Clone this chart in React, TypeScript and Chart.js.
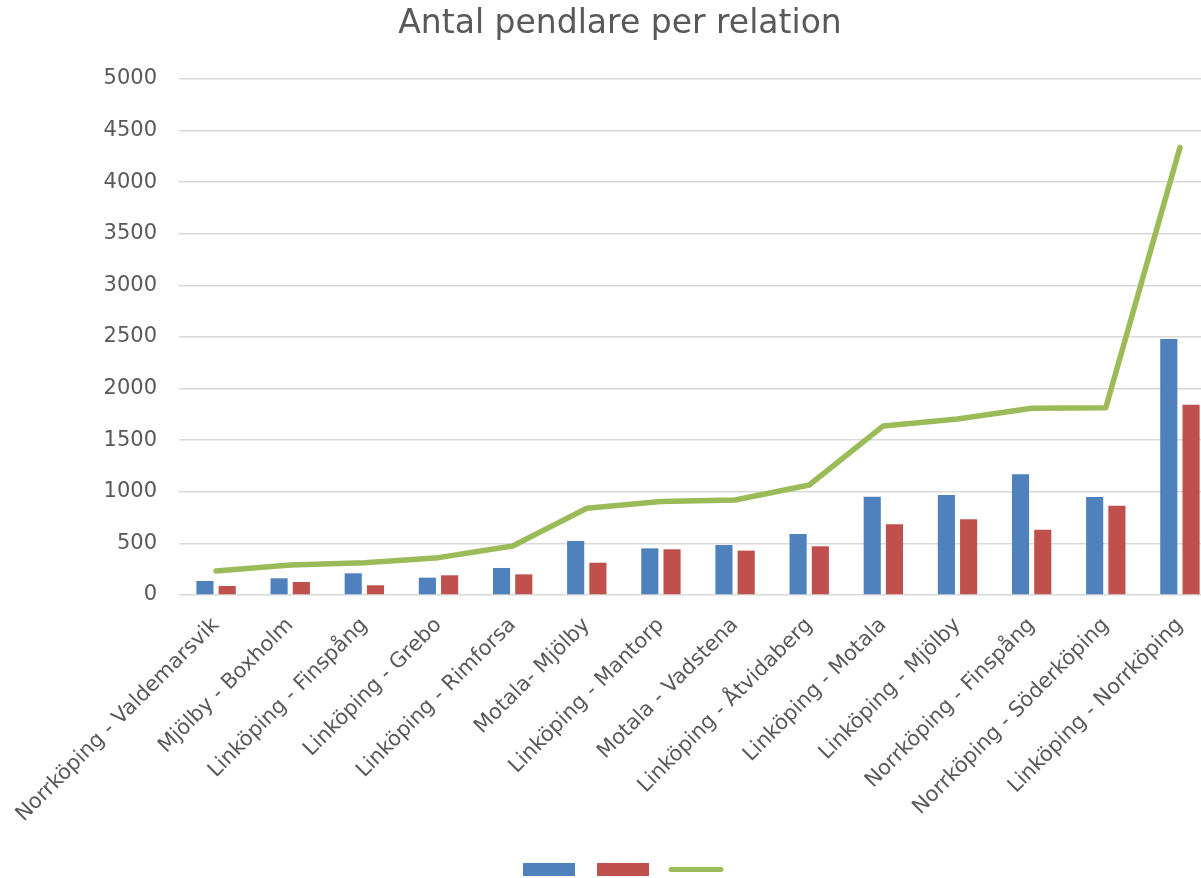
import React, { useEffect, useRef } from "react";
import { Chart, registerables } from "chart.js";

Chart.register(...registerables);

const categories: string[] = [
  "Norrköping - Valdemarsvik",
  "Mjölby - Boxholm",
  "Linköping - Finspång",
  "Linköping - Grebo",
  "Linköping - Rimforsa",
  "Motala- Mjölby",
  "Linköping - Mantorp",
  "Motala - Vadstena",
  "Linköping - Åtvidaberg",
  "Linköping - Motala",
  "Linköping - Mjölby",
  "Norrköping - Finspång",
  "Norrköping - Söderköping",
  "Linköping - Norrköping",
];

const blueValues: number[] = [136, 162, 210, 168, 262, 523, 452, 484, 591, 953, 969, 1169, 950, 2481];
const redValues: number[] = [87, 126, 94, 191, 200, 313, 443, 430, 472, 685, 733, 633, 866, 1844];
const greenValues: number[] = [232, 290, 313, 362, 475, 840, 905, 920, 1066, 1638, 1705, 1809, 1815, 4335];

const titleText = "Antal pendlare per relation";

const BLUE = "#4F81BD";
const RED = "#C0504D";
const GREEN = "#9BBB59";
const TEXT = "#595959";
const GRID = "#D9D9D9";
const FONT = 'Tahoma, "DejaVu Sans", sans-serif';

const CANVAS_W = 1240;
const CANVAS_H = 878;

const legendPlugin = {
  id: "bottomLegend",
  afterDraw(chart: any) {
    const ctx = chart.ctx;
    const cx = chart.width / 2;
    const start = cx - 97;
    const top = 863;
    ctx.save();
    ctx.fillStyle = BLUE;
    ctx.fillRect(start, top, 52, 13);
    ctx.fillStyle = RED;
    ctx.fillRect(start + 74, top, 52, 13);
    ctx.strokeStyle = GREEN;
    ctx.lineWidth = 5;
    ctx.lineCap = "round";
    ctx.beginPath();
    ctx.moveTo(start + 148, top + 6.5);
    ctx.lineTo(start + 198, top + 6.5);
    ctx.stroke();
    ctx.restore();
  },
};

export default function App() {
  const ref = useRef<HTMLCanvasElement | null>(null);

  useEffect(() => {
    if (!ref.current) return;
    const chart = new Chart(ref.current, {
      type: "bar",
      data: {
        labels: categories,
        datasets: [
          {
            type: "bar",
            label: "",
            data: blueValues,
            backgroundColor: BLUE,
            borderWidth: 0,
            order: 1,
            categoryPercentage: 0.6,
            barPercentage: 0.77,
          } as any,
          {
            type: "bar",
            label: "",
            data: redValues,
            backgroundColor: RED,
            borderWidth: 0,
            order: 1,
            categoryPercentage: 0.6,
            barPercentage: 0.77,
          } as any,
          {
            type: "line",
            label: "",
            data: greenValues,
            borderColor: GREEN,
            backgroundColor: GREEN,
            borderWidth: 5.5,
            pointRadius: 0,
            pointHoverRadius: 0,
            tension: 0,
            fill: false,
            borderCapStyle: "round",
            borderJoinStyle: "round",
            order: 0,
          } as any,
        ],
      },
      options: {
        responsive: false,
        animation: false,
        devicePixelRatio: 1,
        layout: { padding: 0 },
        plugins: {
          legend: { display: false },
          tooltip: { enabled: false },
          title: {
            display: true,
            text: titleText,
            color: TEXT,
            font: { family: FONT, size: 33, weight: "normal" },
            padding: { top: 5, bottom: 34.4 },
          },
        },
        scales: {
          x: {
            offset: true,
            grid: { display: false, drawTicks: false },
            border: { display: false },
            ticks: {
              color: TEXT,
              font: { family: FONT, size: 21 },
              minRotation: 45,
              maxRotation: 45,
              autoSkip: false,
              padding: 18,
            },
            afterFit(scale: any) {
              scale.height = 283;
              scale.paddingLeft = 0;
              scale.paddingRight = 0;
            },
          },
          y: {
            min: 0,
            max: 5000,
            grid: { color: GRID, lineWidth: 1.5, drawTicks: false },
            border: { display: false },
            ticks: {
              stepSize: 500,
              color: TEXT,
              font: { family: FONT, size: 21 },
              padding: 22,
              callback: (v: any) => String(v),
            },
            afterFit(scale: any) {
              scale.width = 179;
            },
          },
          spacer: {
            type: "linear",
            position: "right",
            display: true,
            grid: { display: false, drawTicks: false },
            border: { display: false },
            ticks: { display: false },
            afterFit(scale: any) {
              scale.width = 23;
            },
          } as any,
        },
      },
      plugins: [legendPlugin],
    });
    return () => chart.destroy();
  }, []);

  return (
    <div
      style={{
        position: "fixed",
        left: 0,
        top: 0,
        width: 1201,
        height: 878,
        overflow: "hidden",
        background: "#ffffff",
      }}
    >
      <canvas
        ref={ref}
        width={CANVAS_W}
        height={CANVAS_H}
        style={{ display: "block", width: CANVAS_W, height: CANVAS_H }}
      />
    </div>
  );
}
